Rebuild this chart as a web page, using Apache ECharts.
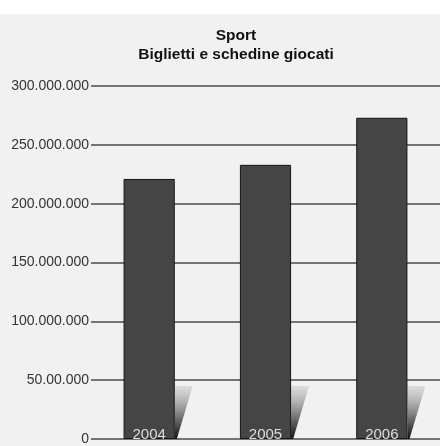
<!DOCTYPE html>
<html><head><meta charset="utf-8">
<script src="https://cdn.jsdelivr.net/npm/echarts@6/dist/echarts.min.js"></script>
<style>html,body{margin:0;padding:0;background:#fff}#c{width:440px;height:446px}</style>
</head><body><div id="c"></div>
<script>
var categories = ['2004', '2005', '2006'];
var values = [221000000, 233000000, 273000000];
var tickValues = [0, 50000000, 100000000, 150000000, 200000000, 250000000, 300000000];
var tickLabels = ['0', '50.00.000', '100.000.000', '150.000.000', '200.000.000', '250.000.000', '300.000.000'];
var titleLines = ['Sport', 'Biglietti e schedine giocati'];

var FONT = "'Liberation Sans', Arial, sans-serif";
var chart = echarts.init(document.getElementById('c'), null, {renderer: 'canvas'});
var labelMap = {};
tickValues.forEach(function (v, i) { labelMap[v] = tickLabels[i]; });

chart.setOption({
  backgroundColor: '#f1f1f1',
  animation: false,
  graphic: [{type: 'rect', left: 0, top: 0, shape: {width: 440, height: 14}, style: {fill: '#ffffff'}, z: -10}],
  title: {
    text: titleLines.join('\n'), left: 231, top: 21, textAlign: 'center',
    textStyle: {fontFamily: FONT, fontSize: 15.5, fontWeight: 'bold', color: '#111', lineHeight: 19}
  },
  grid: {left: 91, right: 0, top: 86, bottom: 5, containLabel: false},
  xAxis: {
    type: 'category', data: categories,
    axisLine: {show: false}, axisTick: {show: false}, axisLabel: {show: false}
  },
  yAxis: {
    type: 'value', min: 0, max: 300000000, interval: 50000000,
    axisLine: {show: false}, axisTick: {show: false},
    splitLine: {lineStyle: {color: '#4a4a4a', width: 1.5}},
    axisLabel: {
      margin: 2, color: '#333', fontFamily: FONT, fontSize: 14,
      formatter: function (v) { return labelMap[v] !== undefined ? labelMap[v] : ''; }
    }
  },
  series: [
    {
      type: 'custom', z: 1,
      data: values.map(function (v, i) { return [i, 0]; }),
      renderItem: function (params, api) {
        var p = api.coord([api.value(0), 0]);
        var bw = api.size([1, 0])[0] * 0.44;
        var xr = p[0] + bw / 2;
        var y0 = p[1];
        return {
          type: 'polygon',
          shape: {points: [[xr, y0 - 53], [xr + 18, y0 - 53], [xr + 2, y0], [xr, y0]]},
          style: {
            fill: new echarts.graphic.LinearGradient(0, 0, 0, 1, [
              {offset: 0, color: 'rgba(200,200,200,0.5)'},
              {offset: 0.5, color: '#888'},
              {offset: 1, color: '#111'}
            ])
          }
        };
      }
    },
    {
      type: 'bar', z: 2, data: values, barWidth: '44%',
      itemStyle: {color: '#454545', borderColor: '#151515', borderWidth: 1},
      label: {
        show: true, position: 'insideBottom', distance: -3,
        formatter: function (p) { return categories[p.dataIndex]; },
        color: '#dcdcdc', fontFamily: FONT, fontSize: 15
      }
    }
  ]
});
</script></body></html>
